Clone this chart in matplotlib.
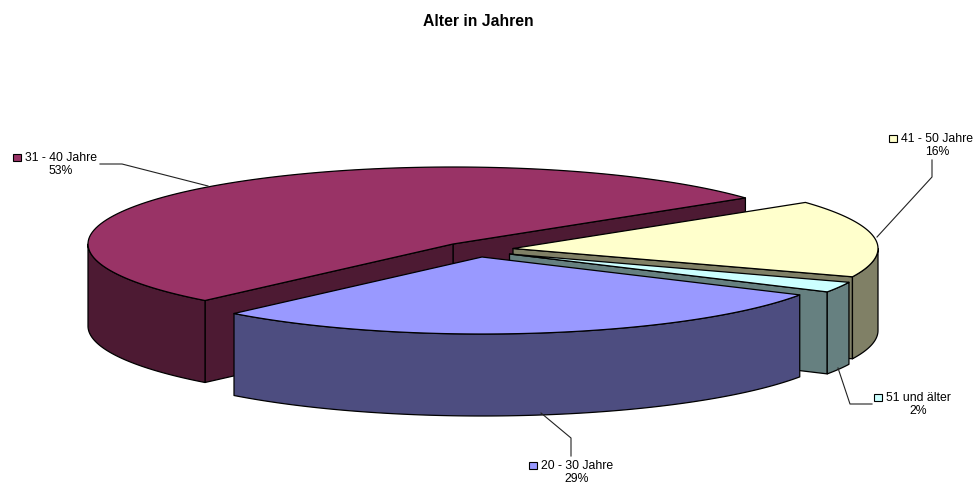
import numpy as np
import matplotlib
matplotlib.use("Agg")
import matplotlib.pyplot as plt
from matplotlib.patches import Polygon, Rectangle

plt.rcParams["font.family"] = ["Liberation Sans", "DejaVu Sans"]

title = "Alter in Jahren"
# clockwise, starting from the front left edge of the big slice
categories = ["31 - 40 Jahre", "41 - 50 Jahre", "51 und älter", "20 - 30 Jahre"]
shares = [52.9, 16.2, 2.2, 28.7]

top_colors = ["#993366", "#FFFFCC", "#CCFFFF", "#9999FF"]
side_colors = ["#4D1A33", "#808066", "#668080", "#4D4D80"]

# pixel layout of the pie
RX, RY, DEPTH = 365, 77, 82
START = 227.2
apexes = [(453, 245), (513, 249.5), (509.5, 255), (482, 258)]
# label anchor (center x, first line y), leader line
label_pos = [(61, 158), (937, 139), (918, 398), (577, 466)]
leaders = [
    [(100, 165), (122, 165), (208, 187)],
    [(932, 161), (932, 178), (877, 238)],
    [(872, 405), (850, 405), (838, 369)],
    [(571, 457), (571, 439), (541, 414)],
]


def arc(apex, t1, t2, n=120):
    t = np.radians(np.linspace(t1, t2, n))
    return np.column_stack([apex[0] + RX * np.cos(t), apex[1] - RY * np.sin(t)])


def draw_poly(ax, pts, color, z):
    ax.add_patch(Polygon(pts, closed=True, facecolor=color, edgecolor="black",
                         linewidth=0.9, joinstyle="round", zorder=z))


def side_face(ax, apex, t, color, z):
    edge = arc(apex, t, t, 1)[0]
    pts = [apex, edge, (edge[0], edge[1] + DEPTH), (apex[0], apex[1] + DEPTH)]
    draw_poly(ax, pts, color, z)


def rim(ax, apex, t1, t2, color, z):
    upper = arc(apex, t1, t2)
    lower = upper + [0, DEPTH]
    draw_poly(ax, np.vstack([upper, lower[::-1]]), color, z)


fig = plt.figure(figsize=(9.75, 4.85), dpi=100)
ax = fig.add_axes([0, 0, 1, 1])
ax.set_xlim(0, 975)
ax.set_ylim(485, 0)
ax.axis("off")

sweeps = np.array(shares) / sum(shares) * 360
ends = START - np.cumsum(sweeps)
starts = ends + sweeps

for i in range(len(shares)):
    apex, t1, t2 = apexes[i], starts[i], ends[i]
    z = 2 + i * 3
    # cut faces turned towards the viewer, only the lower rim shows
    if i == 0:
        side_face(ax, apex, t2, side_colors[i], z)
        side_face(ax, apex, t1, side_colors[i], z)
        rim(ax, apex, t1, 180, side_colors[i], z)
    elif i == 1:
        side_face(ax, apex, t2, side_colors[i], z)
        rim(ax, apex, 0, t2, side_colors[i], z)
    elif i == 2:
        side_face(ax, apex, t2, side_colors[i], z)
        rim(ax, apex, t1, t2, side_colors[i], z)
    else:
        rim(ax, apex, t1, t2, side_colors[i], z)
    draw_poly(ax, np.vstack([[apex], arc(apex, t1, t2)]), top_colors[i], z + 1)

for i, name in enumerate(categories):
    cx, y = label_pos[i]
    pts = np.array(leaders[i])
    ax.plot(pts[:, 0], pts[:, 1], color="#222222", lw=0.8, zorder=20)
    t = ax.text(cx, y, name, fontsize=8.8, ha="center", va="center", color="black", zorder=21)
    ax.text(cx, y + 13.5, f"{round(shares[i])}%", fontsize=8.8, ha="center", va="center",
            color="black", zorder=21)
    fig.canvas.draw()
    bb = t.get_window_extent()
    ax.add_patch(Rectangle((bb.x0 - 12, y - 3.5), 8, 7, facecolor=top_colors[i],
                           edgecolor="black", linewidth=0.8, zorder=21))

ax.text(478, 21, title, fontsize=11.3, fontweight="bold", ha="center", va="center", color="black")

fig.savefig("out.png", dpi=100)
